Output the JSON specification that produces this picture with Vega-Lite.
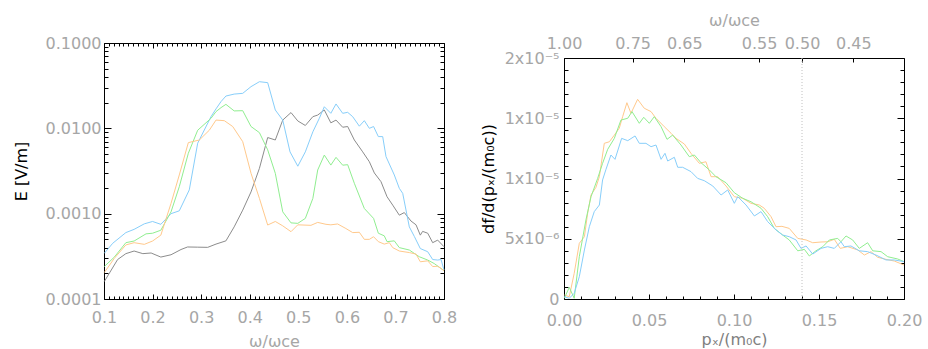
{
  "$schema": "https://vega.github.io/schema/vega-lite/v6.json",
  "background": "white",
  "padding": {"left": 12, "top": 11, "right": 5, "bottom": 0},
  "config": {
    "view": {"stroke": "#000", "strokeWidth": 1},
    "font": "DejaVu Sans",
    "axis": {"labelFont": "DejaVu Sans", "labelFontSize": 16, "labelColor": "#a6a6a6", "tickColor": "#000", "tickWidth": 1, "domain": false, "grid": false, "titleFont": "DejaVu Sans", "titleFontWeight": "normal", "titleFontSize": 16, "labelFlush": false, "labelOverlap": false, "labelBound": false},
    "line": {"strokeWidth": 1}
  },
  "datasets": {
    "left": [
      {"w":0.1006,"E":1.6e-4,"s":"gray"},{"w":0.128,"E":2.9e-4,"s":"gray"},{"w":0.145,"E":3.4e-4,"s":"gray"},{"w":0.162,"E":3.65e-4,"s":"gray"},{"w":0.18,"E":3.4e-4,"s":"gray"},{"w":0.197,"E":3.46e-4,"s":"gray"},{"w":0.217,"E":3.1e-4,"s":"gray"},{"w":0.238,"E":3.3e-4,"s":"gray"},{"w":0.2585,"E":3.8e-4,"s":"gray"},{"w":0.272,"E":4.07e-4,"s":"gray"},{"w":0.293,"E":4.05e-4,"s":"gray"},{"w":0.3135,"E":4.03e-4,"s":"gray"},{"w":0.3306,"E":4.4e-4,"s":"gray"},{"w":0.351,"E":4.8e-4,"s":"gray"},{"w":0.368,"E":7.0e-4,"s":"gray"},{"w":0.3856,"E":1.1e-3,"s":"gray"},{"w":0.4027,"E":1.8e-3,"s":"gray"},{"w":0.42,"E":3.4e-3,"s":"gray"},{"w":0.437,"E":7.8e-3,"s":"gray"},{"w":0.4527,"E":7.3e-3,"s":"gray"},{"w":0.468,"E":0.0125,"s":"gray"},{"w":0.485,"E":0.0153,"s":"gray"},{"w":0.499,"E":0.0122,"s":"gray"},{"w":0.5145,"E":0.0108,"s":"gray"},{"w":0.53,"E":0.0137,"s":"gray"},{"w":0.54,"E":0.0143,"s":"gray"},{"w":0.5536,"E":0.0164,"s":"gray"},{"w":0.567,"E":0.0116,"s":"gray"},{"w":0.5777,"E":0.0125,"s":"gray"},{"w":0.5914,"E":0.0103,"s":"gray"},{"w":0.6017,"E":0.0105,"s":"gray"},{"w":0.6154,"E":0.0073,"s":"gray"},{"w":0.6326,"E":0.0053,"s":"gray"},{"w":0.6463,"E":0.00406,"s":"gray"},{"w":0.6566,"E":0.003,"s":"gray"},{"w":0.6703,"E":0.00237,"s":"gray"},{"w":0.6827,"E":0.00158,"s":"gray"},{"w":0.6944,"E":0.00126,"s":"gray"},{"w":0.708,"E":9.6e-4,"s":"gray"},{"w":0.7183,"E":1.03e-3,"s":"gray"},{"w":0.732,"E":8.2e-4,"s":"gray"},{"w":0.7424,"E":7.4e-4,"s":"gray"},{"w":0.7512,"E":5.6e-4,"s":"gray"},{"w":0.756,"E":6.2e-4,"s":"gray"},{"w":0.7665,"E":5.9e-4,"s":"gray"},{"w":0.7767,"E":4.57e-4,"s":"gray"},{"w":0.787,"E":4.9e-4,"s":"gray"},{"w":0.8,"E":4.1e-4,"s":"gray"},
      {"w":0.1006,"E":3.43e-4,"s":"blue"},{"w":0.118,"E":4.5e-4,"s":"blue"},{"w":0.145,"E":6.0e-4,"s":"blue"},{"w":0.162,"E":6.55e-4,"s":"blue"},{"w":0.183,"E":7.6e-4,"s":"blue"},{"w":0.2,"E":8.1e-4,"s":"blue"},{"w":0.217,"E":7.5e-4,"s":"blue"},{"w":0.238,"E":1.0e-3,"s":"blue"},{"w":0.255,"E":1.08e-3,"s":"blue"},{"w":0.2756,"E":1.9e-3,"s":"blue"},{"w":0.2929,"E":6.7e-3,"s":"blue"},{"w":0.3203,"E":0.0137,"s":"blue"},{"w":0.3306,"E":0.0169,"s":"blue"},{"w":0.341,"E":0.0206,"s":"blue"},{"w":0.351,"E":0.0239,"s":"blue"},{"w":0.368,"E":0.0252,"s":"blue"},{"w":0.3856,"E":0.0257,"s":"blue"},{"w":0.4027,"E":0.0308,"s":"blue"},{"w":0.42,"E":0.0352,"s":"blue"},{"w":0.437,"E":0.0343,"s":"blue"},{"w":0.4527,"E":0.0164,"s":"blue"},{"w":0.468,"E":0.0125,"s":"blue"},{"w":0.483,"E":5.3e-3,"s":"blue"},{"w":0.499,"E":3.6e-3,"s":"blue"},{"w":0.5145,"E":5.3e-3,"s":"blue"},{"w":0.53,"E":9.1e-3,"s":"blue"},{"w":0.5433,"E":0.0131,"s":"blue"},{"w":0.5536,"E":0.0179,"s":"blue"},{"w":0.567,"E":0.015,"s":"blue"},{"w":0.5777,"E":0.0193,"s":"blue"},{"w":0.5914,"E":0.015,"s":"blue"},{"w":0.6017,"E":0.0154,"s":"blue"},{"w":0.612,"E":0.0137,"s":"blue"},{"w":0.6257,"E":0.0106,"s":"blue"},{"w":0.636,"E":0.0123,"s":"blue"},{"w":0.6463,"E":0.01,"s":"blue"},{"w":0.655,"E":0.0105,"s":"blue"},{"w":0.6648,"E":0.008,"s":"blue"},{"w":0.6738,"E":0.008,"s":"blue"},{"w":0.6806,"E":4.66e-3,"s":"blue"},{"w":0.6977,"E":2.84e-3,"s":"blue"},{"w":0.708,"E":1.98e-3,"s":"blue"},{"w":0.715,"E":1.73e-3,"s":"blue"},{"w":0.7286,"E":7.0e-4,"s":"blue"},{"w":0.739,"E":5.4e-4,"s":"blue"},{"w":0.7512,"E":3.9e-4,"s":"blue"},{"w":0.7665,"E":3.58e-4,"s":"blue"},{"w":0.7767,"E":2.9e-4,"s":"blue"},{"w":0.787,"E":2.86e-4,"s":"blue"},{"w":0.7939,"E":2.9e-4,"s":"blue"},{"w":0.8,"E":2.19e-4,"s":"blue"},
      {"w":0.1006,"E":2.4e-4,"s":"green"},{"w":0.1213,"E":3.1e-4,"s":"green"},{"w":0.145,"E":4.57e-4,"s":"green"},{"w":0.162,"E":4.78e-4,"s":"green"},{"w":0.1865,"E":5.8e-4,"s":"green"},{"w":0.2,"E":5.9e-4,"s":"green"},{"w":0.217,"E":6.4e-4,"s":"green"},{"w":0.238,"E":1.05e-3,"s":"green"},{"w":0.255,"E":2.07e-3,"s":"green"},{"w":0.2736,"E":5.1e-3,"s":"green"},{"w":0.2929,"E":9.5e-3,"s":"green"},{"w":0.3203,"E":0.0131,"s":"green"},{"w":0.3306,"E":0.0157,"s":"green"},{"w":0.341,"E":0.0175,"s":"green"},{"w":0.351,"E":0.0191,"s":"green"},{"w":0.368,"E":0.016,"s":"green"},{"w":0.3856,"E":0.0161,"s":"green"},{"w":0.4027,"E":0.0105,"s":"green"},{"w":0.42,"E":8.9e-3,"s":"green"},{"w":0.437,"E":5.6e-3,"s":"green"},{"w":0.4527,"E":2.97e-3,"s":"green"},{"w":0.468,"E":1.05e-3,"s":"green"},{"w":0.485,"E":7.8e-4,"s":"green"},{"w":0.499,"E":7.7e-4,"s":"green"},{"w":0.5145,"E":8.8e-4,"s":"green"},{"w":0.53,"E":1.51e-3,"s":"green"},{"w":0.54,"E":3.25e-3,"s":"green"},{"w":0.5536,"E":4.86e-3,"s":"green"},{"w":0.567,"E":3.71e-3,"s":"green"},{"w":0.5777,"E":4.57e-3,"s":"green"},{"w":0.5914,"E":3.7e-3,"s":"green"},{"w":0.6017,"E":3.75e-3,"s":"green"},{"w":0.6154,"E":2.27e-3,"s":"green"},{"w":0.636,"E":1.15e-3,"s":"green"},{"w":0.655,"E":8.8e-4,"s":"green"},{"w":0.6648,"E":5.9e-4,"s":"green"},{"w":0.677,"E":5.5e-4,"s":"green"},{"w":0.6827,"E":4.7e-4,"s":"green"},{"w":0.6977,"E":4.8e-4,"s":"green"},{"w":0.708,"E":4.0e-4,"s":"green"},{"w":0.7286,"E":3.75e-4,"s":"green"},{"w":0.749,"E":3.13e-4,"s":"green"},{"w":0.7665,"E":2.86e-4,"s":"green"},{"w":0.78,"E":2.6e-4,"s":"green"},{"w":0.8,"E":2.15e-4,"s":"green"},
      {"w":0.1006,"E":2.04e-4,"s":"orange"},{"w":0.1213,"E":3.0e-4,"s":"orange"},{"w":0.145,"E":4.3e-4,"s":"orange"},{"w":0.162,"E":4.57e-4,"s":"orange"},{"w":0.183,"E":4.37e-4,"s":"orange"},{"w":0.2,"E":4.78e-4,"s":"orange"},{"w":0.217,"E":5.6e-4,"s":"orange"},{"w":0.238,"E":1.32e-3,"s":"orange"},{"w":0.255,"E":2.84e-3,"s":"orange"},{"w":0.2736,"E":6.8e-3,"s":"orange"},{"w":0.2963,"E":7.3e-3,"s":"orange"},{"w":0.3168,"E":9.5e-3,"s":"orange"},{"w":0.3306,"E":0.0125,"s":"orange"},{"w":0.3477,"E":0.0123,"s":"orange"},{"w":0.365,"E":0.0105,"s":"orange"},{"w":0.3856,"E":6.98e-3,"s":"orange"},{"w":0.4027,"E":2.97e-3,"s":"orange"},{"w":0.42,"E":1.51e-3,"s":"orange"},{"w":0.437,"E":7.36e-4,"s":"orange"},{"w":0.4527,"E":8.1e-4,"s":"orange"},{"w":0.468,"E":7.2e-4,"s":"orange"},{"w":0.485,"E":6.15e-4,"s":"orange"},{"w":0.499,"E":7.4e-4,"s":"orange"},{"w":0.526,"E":7.3e-4,"s":"orange"},{"w":0.54,"E":7.9e-4,"s":"orange"},{"w":0.557,"E":7.5e-4,"s":"orange"},{"w":0.567,"E":7.4e-4,"s":"orange"},{"w":0.581,"E":7.57e-4,"s":"orange"},{"w":0.598,"E":6.7e-4,"s":"orange"},{"w":0.612,"E":6.0e-4,"s":"orange"},{"w":0.6257,"E":6.05e-4,"s":"orange"},{"w":0.636,"E":5.0e-4,"s":"orange"},{"w":0.6463,"E":5.0e-4,"s":"orange"},{"w":0.655,"E":5.37e-4,"s":"orange"},{"w":0.6648,"E":4.7e-4,"s":"orange"},{"w":0.677,"E":4.4e-4,"s":"orange"},{"w":0.6875,"E":4.57e-4,"s":"orange"},{"w":0.6944,"E":4.0e-4,"s":"orange"},{"w":0.708,"E":3.65e-4,"s":"orange"},{"w":0.7286,"E":3.5e-4,"s":"orange"},{"w":0.7424,"E":3.36e-4,"s":"orange"},{"w":0.7512,"E":2.73e-4,"s":"orange"},{"w":0.7665,"E":2.8e-4,"s":"orange"},{"w":0.7767,"E":2.4e-4,"s":"orange"},{"w":0.787,"E":2.42e-4,"s":"orange"},{"w":0.8,"E":2.15e-4,"s":"orange"}
    ],
    "right": [
      {"p":0.0002,"f":3.3e-7,"s":"orange"},{"p":0.0031,"f":1.9e-7,"s":"orange"},{"p":0.006,"f":2.13e-6,"s":"orange"},{"p":0.009,"f":4.62e-6,"s":"orange"},{"p":0.012,"f":5.17e-6,"s":"orange"},{"p":0.0139,"f":7.11e-6,"s":"orange"},{"p":0.0159,"f":8.63e-6,"s":"orange"},{"p":0.0188,"f":9.27e-6,"s":"orange"},{"p":0.0208,"f":1.015e-5,"s":"orange"},{"p":0.0237,"f":1.292e-5,"s":"orange"},{"p":0.0267,"f":1.305e-5,"s":"orange"},{"p":0.0296,"f":1.36e-5,"s":"orange"},{"p":0.0325,"f":1.417e-5,"s":"orange"},{"p":0.0345,"f":1.513e-5,"s":"orange"},{"p":0.037,"f":1.629e-5,"s":"orange"},{"p":0.0394,"f":1.541e-5,"s":"orange"},{"p":0.0433,"f":1.657e-5,"s":"orange"},{"p":0.0472,"f":1.583e-5,"s":"orange"},{"p":0.0512,"f":1.555e-5,"s":"orange"},{"p":0.0541,"f":1.5e-5,"s":"orange"},{"p":0.059,"f":1.43e-5,"s":"orange"},{"p":0.063,"f":1.375e-5,"s":"orange"},{"p":0.0659,"f":1.333e-5,"s":"orange"},{"p":0.0708,"f":1.286e-5,"s":"orange"},{"p":0.0747,"f":1.209e-5,"s":"orange"},{"p":0.0796,"f":1.126e-5,"s":"orange"},{"p":0.0835,"f":1.139e-5,"s":"orange"},{"p":0.0865,"f":1.015e-5,"s":"orange"},{"p":0.0904,"f":1.015e-5,"s":"orange"},{"p":0.0953,"f":9.38e-6,"s":"orange"},{"p":0.1002,"f":8.49e-6,"s":"orange"},{"p":0.1051,"f":8.36e-6,"s":"orange"},{"p":0.11,"f":7.94e-6,"s":"orange"},{"p":0.1149,"f":7.8e-6,"s":"orange"},{"p":0.1178,"f":7.53e-6,"s":"orange"},{"p":0.1218,"f":6.83e-6,"s":"orange"},{"p":0.1247,"f":6.0e-6,"s":"orange"},{"p":0.1282,"f":6.03e-6,"s":"orange"},{"p":0.1325,"f":5.86e-6,"s":"orange"},{"p":0.1375,"f":5.03e-6,"s":"orange"},{"p":0.1424,"f":4.9e-6,"s":"orange"},{"p":0.1463,"f":4.67e-6,"s":"orange"},{"p":0.1512,"f":4.73e-6,"s":"orange"},{"p":0.1551,"f":4.75e-6,"s":"orange"},{"p":0.159,"f":4.95e-6,"s":"orange"},{"p":0.1625,"f":4.2e-6,"s":"orange"},{"p":0.1669,"f":4.34e-6,"s":"orange"},{"p":0.1728,"f":4.07e-6,"s":"orange"},{"p":0.1767,"f":3.65e-6,"s":"orange"},{"p":0.1806,"f":3.93e-6,"s":"orange"},{"p":0.1845,"f":3.46e-6,"s":"orange"},{"p":0.1894,"f":3.29e-6,"s":"orange"},{"p":0.1943,"f":3.15e-6,"s":"orange"},{"p":0.2,"f":2.82e-6,"s":"orange"},
      {"p":0.0002,"f":6e-8,"s":"green"},{"p":0.0031,"f":9.7e-7,"s":"green"},{"p":0.006,"f":6e-8,"s":"green"},{"p":0.009,"f":3.51e-6,"s":"green"},{"p":0.0129,"f":6.56e-6,"s":"green"},{"p":0.0159,"f":8.49e-6,"s":"green"},{"p":0.0198,"f":1.001e-5,"s":"green"},{"p":0.0227,"f":1.126e-5,"s":"green"},{"p":0.0257,"f":1.242e-5,"s":"green"},{"p":0.0296,"f":1.333e-5,"s":"green"},{"p":0.0335,"f":1.485e-5,"s":"green"},{"p":0.0375,"f":1.5e-5,"s":"green"},{"p":0.04,"f":1.555e-5,"s":"green"},{"p":0.0443,"f":1.458e-5,"s":"green"},{"p":0.0469,"f":1.508e-5,"s":"green"},{"p":0.0502,"f":1.458e-5,"s":"green"},{"p":0.0531,"f":1.513e-5,"s":"green"},{"p":0.0571,"f":1.43e-5,"s":"green"},{"p":0.0606,"f":1.325e-5,"s":"green"},{"p":0.0639,"f":1.36e-5,"s":"green"},{"p":0.0688,"f":1.278e-5,"s":"green"},{"p":0.0737,"f":1.181e-5,"s":"green"},{"p":0.0767,"f":1.195e-5,"s":"green"},{"p":0.0806,"f":1.131e-5,"s":"green"},{"p":0.0855,"f":1.071e-5,"s":"green"},{"p":0.0894,"f":1.015e-5,"s":"green"},{"p":0.0953,"f":9.65e-6,"s":"green"},{"p":0.1002,"f":8.82e-6,"s":"green"},{"p":0.1051,"f":8.36e-6,"s":"green"},{"p":0.11,"f":8.07e-6,"s":"green"},{"p":0.1159,"f":7.53e-6,"s":"green"},{"p":0.1198,"f":6.83e-6,"s":"green"},{"p":0.1237,"f":5.86e-6,"s":"green"},{"p":0.1286,"f":5.31e-6,"s":"green"},{"p":0.1325,"f":4.9e-6,"s":"green"},{"p":0.1375,"f":4.0e-6,"s":"green"},{"p":0.1414,"f":4.12e-6,"s":"green"},{"p":0.1443,"f":3.57e-6,"s":"green"},{"p":0.1482,"f":4.0e-6,"s":"green"},{"p":0.1522,"f":4.34e-6,"s":"green"},{"p":0.1561,"f":4.9e-6,"s":"green"},{"p":0.161,"f":5.03e-6,"s":"green"},{"p":0.1629,"f":4.75e-6,"s":"green"},{"p":0.1659,"f":5.23e-6,"s":"green"},{"p":0.1698,"f":4.9e-6,"s":"green"},{"p":0.1737,"f":4.2e-6,"s":"green"},{"p":0.1786,"f":4.67e-6,"s":"green"},{"p":0.1816,"f":4.0e-6,"s":"green"},{"p":0.1865,"f":3.93e-6,"s":"green"},{"p":0.1904,"f":3.51e-6,"s":"green"},{"p":0.1963,"f":3.32e-6,"s":"green"},{"p":0.2,"f":3.1e-6,"s":"green"},
      {"p":0.0002,"f":1.9e-7,"s":"blue"},{"p":0.0031,"f":6e-8,"s":"blue"},{"p":0.006,"f":4.7e-7,"s":"blue"},{"p":0.009,"f":1.85e-6,"s":"blue"},{"p":0.012,"f":4.07e-6,"s":"blue"},{"p":0.0149,"f":6.0e-6,"s":"blue"},{"p":0.0178,"f":7.25e-6,"s":"blue"},{"p":0.0208,"f":7.8e-6,"s":"blue"},{"p":0.0227,"f":9.88e-6,"s":"blue"},{"p":0.0247,"f":1.076e-5,"s":"blue"},{"p":0.0276,"f":1.195e-5,"s":"blue"},{"p":0.03,"f":1.159e-5,"s":"blue"},{"p":0.0339,"f":1.333e-5,"s":"blue"},{"p":0.0375,"f":1.314e-5,"s":"blue"},{"p":0.0418,"f":1.353e-5,"s":"blue"},{"p":0.0443,"f":1.292e-5,"s":"blue"},{"p":0.0482,"f":1.292e-5,"s":"blue"},{"p":0.0512,"f":1.264e-5,"s":"blue"},{"p":0.0541,"f":1.278e-5,"s":"blue"},{"p":0.0571,"f":1.159e-5,"s":"blue"},{"p":0.0594,"f":1.209e-5,"s":"blue"},{"p":0.061,"f":1.145e-5,"s":"blue"},{"p":0.0649,"f":1.176e-5,"s":"blue"},{"p":0.0669,"f":1.093e-5,"s":"blue"},{"p":0.0698,"f":1.093e-5,"s":"blue"},{"p":0.0747,"f":1.057e-5,"s":"blue"},{"p":0.0786,"f":1.001e-5,"s":"blue"},{"p":0.0825,"f":9.82e-6,"s":"blue"},{"p":0.0875,"f":9.38e-6,"s":"blue"},{"p":0.0924,"f":8.63e-6,"s":"blue"},{"p":0.0963,"f":9.05e-6,"s":"blue"},{"p":0.1002,"f":7.94e-6,"s":"blue"},{"p":0.1022,"f":8.49e-6,"s":"blue"},{"p":0.1071,"f":7.8e-6,"s":"blue"},{"p":0.112,"f":6.89e-6,"s":"blue"},{"p":0.1159,"f":7.25e-6,"s":"blue"},{"p":0.1198,"f":6.42e-6,"s":"blue"},{"p":0.1247,"f":5.73e-6,"s":"blue"},{"p":0.1286,"f":5.31e-6,"s":"blue"},{"p":0.1325,"f":5.17e-6,"s":"blue"},{"p":0.1365,"f":4.9e-6,"s":"blue"},{"p":0.1394,"f":4.2e-6,"s":"blue"},{"p":0.1424,"f":4.4e-6,"s":"blue"},{"p":0.1463,"f":3.73e-6,"s":"blue"},{"p":0.1512,"f":4.2e-6,"s":"blue"},{"p":0.1551,"f":4.34e-6,"s":"blue"},{"p":0.159,"f":4.2e-6,"s":"blue"},{"p":0.1629,"f":4.75e-6,"s":"blue"},{"p":0.1649,"f":4.34e-6,"s":"blue"},{"p":0.1688,"f":4.4e-6,"s":"blue"},{"p":0.1737,"f":4.0e-6,"s":"blue"},{"p":0.1786,"f":3.93e-6,"s":"blue"},{"p":0.1835,"f":3.65e-6,"s":"blue"},{"p":0.1894,"f":3.24e-6,"s":"blue"},{"p":0.1943,"f":3.24e-6,"s":"blue"},{"p":0.2,"f":3.1e-6,"s":"blue"}
    ],
    "marker": [{"p": 0.14}]
  },
  "hconcat": [
    {
      "width": 340,
      "height": 256,
      "data": {"name": "left"},
      "resolve": {"axis": {"x": "independent", "y": "independent"}},
      "layer": [
        {
          "mark": {"type": "line", "strokeWidth": 1},
          "encoding": {
            "x": {"field": "w", "type": "quantitative", "scale": {"domain": [0.1, 0.8], "nice": false, "zero": false},
                  "axis": {"orient": "bottom", "values": [0.1,0.2,0.3,0.4,0.5,0.6,0.7,0.8], "format": ".1f", "tickSize": -5, "labelPadding": 15, "title": "ω/ωce", "titleColor": "#a6a6a6", "titlePadding": 8}},
            "y": {"field": "E", "type": "quantitative", "scale": {"type": "log", "domain": [0.0001, 0.1], "nice": false},
                  "axis": {"orient": "left", "values": [0.0001, 0.001, 0.01, 0.1], "format": ".4f", "tickSize": -7, "labelPadding": 10, "title": "E [V/m]", "titleColor": "#000", "titlePadding": 16}},
            "color": {"field": "s", "type": "nominal", "scale": {"domain": ["gray","blue","green","orange"], "range": ["#8c8c8c","#87cefa","#90ee90","#ffc98c"]}, "legend": null}
          }
        },
        {
          "mark": {"type": "line", "opacity": 0},
          "encoding": {
            "x": {"field": "w", "type": "quantitative", "scale": {"domain": [0.1, 0.8], "nice": false, "zero": false},
                  "axis": {"orient": "bottom", "values": [0.11,0.12,0.13,0.14,0.15,0.16,0.17,0.18,0.19,0.21,0.22,0.23,0.24,0.25,0.26,0.27,0.28,0.29,0.31,0.32,0.33,0.34,0.35,0.36,0.37,0.38,0.39,0.41,0.42,0.43,0.44,0.45,0.46,0.47,0.48,0.49,0.51,0.52,0.53,0.54,0.55,0.56,0.57,0.58,0.59,0.61,0.62,0.63,0.64,0.65,0.66,0.67,0.68,0.69,0.71,0.72,0.73,0.74,0.75,0.76,0.77,0.78,0.79], "tickSize": -3, "labels": false, "title": null}},
            "y": {"field": "E", "type": "quantitative", "scale": {"type": "log", "domain": [0.0001, 0.1], "nice": false},
                  "axis": {"orient": "left", "values": [0.0002,0.0003,0.0004,0.0005,0.0006,0.0007,0.0008,0.0009,0.002,0.003,0.004,0.005,0.006,0.007,0.008,0.009,0.02,0.03,0.04,0.05,0.06,0.07,0.08,0.09], "tickSize": -4, "labels": false, "title": null}},
            "detail": {"field": "s"}
          }
        },
        {
          "mark": {"type": "line", "opacity": 0},
          "encoding": {
            "x": {"field": "w", "type": "quantitative", "scale": {"domain": [0.1, 0.8], "nice": false, "zero": false},
                  "axis": {"orient": "top", "values": [0.1,0.2,0.3,0.4,0.5,0.6,0.7,0.8], "tickSize": -5, "labels": false, "title": null}},
            "y": {"field": "E", "type": "quantitative", "scale": {"type": "log", "domain": [0.0001, 0.1], "nice": false},
                  "axis": {"orient": "right", "values": [0.0001, 0.001, 0.01, 0.1], "tickSize": -7, "labels": false, "title": null}},
            "detail": {"field": "s"}
          }
        },
        {
          "mark": {"type": "line", "opacity": 0},
          "encoding": {
            "x": {"field": "w", "type": "quantitative", "scale": {"domain": [0.1, 0.8], "nice": false, "zero": false},
                  "axis": {"orient": "top", "values": [0.11,0.12,0.13,0.14,0.15,0.16,0.17,0.18,0.19,0.21,0.22,0.23,0.24,0.25,0.26,0.27,0.28,0.29,0.31,0.32,0.33,0.34,0.35,0.36,0.37,0.38,0.39,0.41,0.42,0.43,0.44,0.45,0.46,0.47,0.48,0.49,0.51,0.52,0.53,0.54,0.55,0.56,0.57,0.58,0.59,0.61,0.62,0.63,0.64,0.65,0.66,0.67,0.68,0.69,0.71,0.72,0.73,0.74,0.75,0.76,0.77,0.78,0.79], "tickSize": -3, "labels": false, "title": null}},
            "y": {"field": "E", "type": "quantitative", "scale": {"type": "log", "domain": [0.0001, 0.1], "nice": false},
                  "axis": {"orient": "right", "values": [0.0002,0.0003,0.0004,0.0005,0.0006,0.0007,0.0008,0.0009,0.002,0.003,0.004,0.005,0.006,0.007,0.008,0.009,0.02,0.03,0.04,0.05,0.06,0.07,0.08,0.09], "tickSize": -4, "labels": false, "title": null}},
            "detail": {"field": "s"}
          }
        }
      ]
    },
    {
      "bounds": "flush",
      "spacing": 0,
      "vconcat": [
        {
          "width": 340,
          "height": 15,
          "view": {"stroke": null},
          "data": {"values": []},
          "mark": {"type": "point", "opacity": 0},
          "encoding": {}
        },
        {
          "width": 340,
          "height": 241,
          "resolve": {"axis": {"x": "independent", "y": "independent"}},
          "layer": [
            {
              "data": {"name": "right"},
              "mark": {"type": "line", "strokeWidth": 1},
              "encoding": {
                "x": {"field": "p", "type": "quantitative", "scale": {"domain": [0, 0.2], "nice": false, "zero": false},
                      "axis": {"orient": "bottom", "values": [0, 0.05, 0.1, 0.15, 0.2], "format": ".2f", "tickSize": -5, "labelPadding": 18, "title": "pₓ/(m₀c)", "titleColor": "#808080", "titlePadding": 3}},
                "y": {"field": "f", "type": "quantitative", "scale": {"domain": [0, 2e-5], "nice": false},
                      "axis": {"orient": "left", "values": [0, 5e-6, 1e-5, 1.5e-5, 2e-5], "labelExpr": "datum.value == 0 ? '0' : datum.value < 7e-6 ? '5x10⁻⁶' : datum.value < 1.8e-5 ? '1x10⁻⁵' : '2x10⁻⁵'", "tickSize": -7, "labelPadding": 12, "title": "df/d(pₓ/(m₀c))", "titleColor": "#000", "titlePadding": 8}},
                "color": {"field": "s", "type": "nominal", "scale": {"domain": ["gray","blue","green","orange"], "range": ["#8c8c8c","#87cefa","#90ee90","#ffc98c"]}, "legend": null}
              }
            },
            {
              "data": {"name": "right"},
              "mark": {"type": "line", "opacity": 0},
              "encoding": {
                "x": {"field": "p", "type": "quantitative", "scale": {"domain": [0, 0.2], "nice": false, "zero": false},
                      "axis": {"orient": "bottom", "values": [0.01,0.02,0.03,0.04,0.06,0.07,0.08,0.09,0.11,0.12,0.13,0.14,0.16,0.17,0.18,0.19], "tickSize": -3, "labels": false, "title": null}},
                "y": {"field": "f", "type": "quantitative", "scale": {"domain": [0, 2e-5], "nice": false},
                      "axis": {"orient": "left", "values": [1e-6,2e-6,3e-6,4e-6,6e-6,7e-6,8e-6,9e-6,1.1e-5,1.2e-5,1.3e-5,1.4e-5,1.6e-5,1.7e-5,1.8e-5,1.9e-5], "tickSize": -4, "labels": false, "title": null}},
                "detail": {"field": "s"}
              }
            },
            {
              "data": {"name": "marker"},
              "mark": {"type": "rule", "color": "#c0c0c0", "strokeDash": [1, 2], "strokeWidth": 1},
              "encoding": {
                "x": {"field": "p", "type": "quantitative", "scale": {"domain": [0, 0.2], "nice": false, "zero": false},
                      "axis": {"orient": "top", "values": [0, 0.0404, 0.0708, 0.1148, 0.14, 0.1702], "labelExpr": "datum.value < 0.02 ? '1.00' : datum.value < 0.055 ? '0.75' : datum.value < 0.09 ? '0.65' : datum.value < 0.127 ? '0.55' : datum.value < 0.155 ? '0.50' : '0.45'", "tickSize": -4, "labelPadding": 11, "title": "ω/ωce", "titleColor": "#a6a6a6", "titlePadding": 7}}
              }
            },
            {
              "data": {"name": "right"},
              "mark": {"type": "line", "opacity": 0},
              "encoding": {
                "x": {"field": "p", "type": "quantitative", "scale": {"domain": [0, 0.2], "nice": false, "zero": false}, "axis": null},
                "y": {"field": "f", "type": "quantitative", "scale": {"domain": [0, 2e-5], "nice": false},
                      "axis": {"orient": "right", "values": [0, 5e-6, 1e-5, 1.5e-5, 2e-5], "tickSize": -7, "labels": false, "title": null}},
                "detail": {"field": "s"}
              }
            },
            {
              "data": {"name": "right"},
              "mark": {"type": "line", "opacity": 0},
              "encoding": {
                "x": {"field": "p", "type": "quantitative", "scale": {"domain": [0, 0.2], "nice": false, "zero": false}, "axis": null},
                "y": {"field": "f", "type": "quantitative", "scale": {"domain": [0, 2e-5], "nice": false},
                      "axis": {"orient": "right", "values": [1e-6,2e-6,3e-6,4e-6,6e-6,7e-6,8e-6,9e-6,1.1e-5,1.2e-5,1.3e-5,1.4e-5,1.6e-5,1.7e-5,1.8e-5,1.9e-5], "tickSize": -4, "labels": false, "title": null}},
                "detail": {"field": "s"}
              }
            }
          ]
        }
      ]
    }
  ],
  "spacing": 21
}
